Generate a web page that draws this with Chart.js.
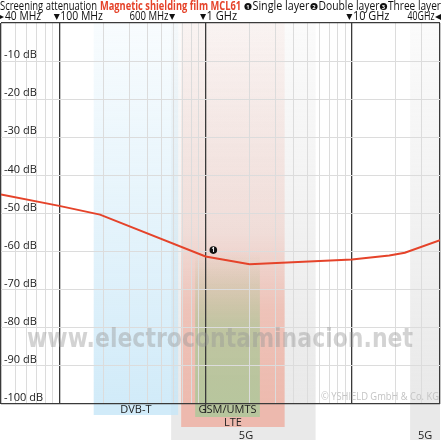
<!DOCTYPE html>
<html>
<head>
<meta charset="utf-8">
<script src="https://cdn.jsdelivr.net/npm/chart.js@4"></script>
<style>
  html, body { margin: 0; padding: 0; background: #fff; }
  #wrap { width: 441px; height: 441px; position: relative; }
</style>
</head>
<body>
<div id="wrap"><canvas id="chart"></canvas></div>
<script>
// Measured curve (frequency in MHz, screening attenuation in dB)
const freqMHz = [40, 100, 190, 1000, 2000, 10000, 18000, 23000, 40000];
const attenuationDb = [-45, -48, -50.3, -61.3, -63.3, -62.1, -61, -60.3, -57];

// Axis ticks
const yTicks = [0, -10, -20, -30, -40, -50, -60, -70, -80, -90, -100];
const xGridMHz = [40, 50, 60, 70, 80, 90, 100, 200, 300, 400, 500, 600, 700, 800, 900,
    1000, 2000, 3000, 4000, 5000, 6000, 7000, 8000, 9000, 10000, 20000, 30000, 40000];
const xMajorMHz = [40, 100, 1000, 10000, 40000];

// Top frequency markers
const markerLabels = ['40 MHz', '100 MHz', '600 MHz', '1 GHz', '10 GHz', '40GHz'];
const markerFreqs = [40, 100, 600, 1000, 10000, 40000];

// Frequency bands under the plot
const bandLabels = ['5G', 'DVB-T', 'LTE', 'GSM/UMTS', '5G'];
const bandFrom = [582, 172, 681, 849, 25000];
const bandTo = [5650, 650, 3470, 2350, 40000];

// Layer badge on the curve
const badgeFreq = 1130;
const badgeDb = -59.6;

const FONT = '"Open Sans", "Liberation Sans", sans-serif';

// per band: rgb, gradient stops [pos, alpha], bottom px, label y
const bandStyle = [
    { rgb: '226,226,226', stops: [[0, 0.15], [1, 0.75]], bottom: 440, ly: 436 },
    { rgb: '198,230,247', stops: [[0, 0.12], [0.5, 0.45], [1, 0.8]], bottom: 415, ly: 410 },
    { rgb: '238,178,164', stops: [[0, 0.1], [0.55, 0.32], [0.75, 0.72], [1, 0.85]], bottom: 427, ly: 423 },
    { rgb: '180,198,156', stops: [[0, 0], [0.6, 0], [0.8, 0.8], [1, 0.95]], bottom: 417, ly: 410 },
    { rgb: '226,226,226', stops: [[0, 0.15], [1, 0.75]], bottom: 440, ly: 436 }
];

function badge(ctx, x, y, n, r) {
    ctx.save();
    ctx.fillStyle = '#111';
    ctx.beginPath();
    ctx.arc(x, y, r, 0, Math.PI * 2);
    ctx.fill();
    ctx.fillStyle = '#fff';
    ctx.font = 'bold ' + (r * 1.6) + 'px ' + FONT;
    ctx.textAlign = 'center';
    ctx.textBaseline = 'middle';
    ctx.fillText(String(n), x, y + 0.5);
    ctx.restore();
}

function tri(ctx, cx, cy, dir, s) {
    ctx.beginPath();
    if (dir === 'down') {
        ctx.moveTo(cx - s / 2, cy - s / 2);
        ctx.lineTo(cx + s / 2, cy - s / 2);
        ctx.lineTo(cx, cy + s / 2);
    } else if (dir === 'right') {
        ctx.moveTo(cx - s / 2, cy - s / 2);
        ctx.lineTo(cx + s / 2, cy);
        ctx.lineTo(cx - s / 2, cy + s / 2);
    } else {
        ctx.moveTo(cx + s / 2, cy - s / 2);
        ctx.lineTo(cx - s / 2, cy);
        ctx.lineTo(cx + s / 2, cy + s / 2);
    }
    ctx.closePath();
    ctx.fill();
}

const bandsPlugin = {
    id: 'bands',
    beforeDraw(chart) {
        const { ctx, chartArea } = chart;
        const xs = chart.scales.x;
        ctx.save();
        bandLabels.forEach((label, i) => {
            const st = bandStyle[i];
            const x0 = xs.getPixelForValue(bandFrom[i]);
            const x1 = Math.min(xs.getPixelForValue(bandTo[i]), 441);
            const g = ctx.createLinearGradient(0, chartArea.top, 0, chartArea.bottom);
            st.stops.forEach(s => g.addColorStop(s[0], 'rgba(' + st.rgb + ',' + s[1] + ')'));
            ctx.fillStyle = g;
            ctx.fillRect(x0, chartArea.top, x1 - x0, chartArea.bottom - chartArea.top);
            const last = st.stops[st.stops.length - 1][1];
            ctx.fillStyle = 'rgba(' + st.rgb + ',' + last + ')';
            ctx.fillRect(x0, chartArea.bottom, x1 - x0, st.bottom - chartArea.bottom);
        });
        ctx.restore();
    },
    beforeDatasetsDraw(chart) {
        const { ctx, chartArea } = chart;
        const xs = chart.scales.x;
        ctx.save();
        // 1 GHz line runs on below the axis
        ctx.strokeStyle = '#3a3a3a';
        ctx.lineWidth = 1.3;
        const g1 = xs.getPixelForValue(1000);
        ctx.beginPath();
        ctx.moveTo(g1, chartArea.bottom);
        ctx.lineTo(g1, 413);
        ctx.stroke();
        // watermark
        ctx.fillStyle = 'rgba(150,150,150,0.42)';
        ctx.font = 'bold 27px "DejaVu Sans", sans-serif';
        ctx.textAlign = 'center';
        ctx.textBaseline = 'middle';
        ctx.fillText('www.electrocontaminacion.net', 220, 340, 386);
        // copyright
        ctx.fillStyle = '#c4c4c4';
        ctx.font = '10.5px ' + FONT;
        ctx.textAlign = 'right';
        ctx.fillText('\u00A9 YSHIELD GmbH & Co. KG', 439, 397, 118);
        // band labels
        ctx.fillStyle = '#222';
        ctx.font = '11px ' + FONT;
        ctx.textAlign = 'center';
        bandLabels.forEach((label, i) => {
            const x0 = xs.getPixelForValue(bandFrom[i]);
            const x1 = Math.min(xs.getPixelForValue(bandTo[i]), 441);
            let cx = (x0 + x1) / 2;
            if (label === '5G' && i === 0) cx = 246;
            ctx.fillText(label, cx, bandStyle[i].ly);
        });
        ctx.restore();
    },
    afterDraw(chart) {
        const { ctx } = chart;
        const xs = chart.scales.x;
        const ys = chart.scales.y;
        ctx.save();
        // title row
        ctx.textBaseline = 'middle';
        ctx.textAlign = 'left';
        ctx.fillStyle = '#111';
        ctx.font = '12px ' + FONT;
        ctx.fillText('Screening attenuation', 0, 6.5, 97);
        ctx.fillStyle = '#e5432a';
        ctx.font = 'bold 12px ' + FONT;
        ctx.fillText('Magnetic shielding film MCL61', 100, 6.5, 141);
        ctx.fillStyle = '#111';
        ctx.font = '12px ' + FONT;
        badge(ctx, 248, 6.5, 1, 3.6);
        ctx.fillText('Single layer', 252.5, 6.5, 57);
        badge(ctx, 314, 6.5, 2, 3.6);
        ctx.fillText('Double layer', 318.5, 6.5, 61);
        badge(ctx, 383.5, 6.5, 3, 3.6);
        ctx.fillText('Three layer', 388, 6.5, 53);

        // marker row
        const my = 17;
        markerLabels.forEach((label, i) => {
            const px = xs.getPixelForValue(markerFreqs[i]);
            ctx.fillStyle = '#111';
            if (i === 0) {
                tri(ctx, 1, my, 'right', 6);
                ctx.textAlign = 'left';
                ctx.fillText(label, 5, my, 36);
            } else if (i === markerLabels.length - 1) {
                tri(ctx, 438, my, 'left', 6);
                ctx.textAlign = 'right';
                ctx.fillText(label, 434.5, my, 27);
            } else if (label.indexOf('600') === 0) {
                tri(ctx, px - 1, my, 'down', 6);
                ctx.textAlign = 'right';
                ctx.fillText(label, px - 4.5, my, 39);
            } else {
                tri(ctx, px - 2.5, my, 'down', 6);
                ctx.textAlign = 'left';
                ctx.fillText(label, px + 1, my, label.length * 6.1);
            }
        });

        // layer badge
        badge(ctx, xs.getPixelForValue(badgeFreq), ys.getPixelForValue(badgeDb), 1, 3.8);
        ctx.restore();
    }
};

new Chart(document.getElementById('chart'), {
    type: 'line',
    data: {
        datasets: [{
            label: 'Single layer',
            data: freqMHz.map((f, i) => ({ x: f, y: attenuationDb[i] })),
            borderColor: '#e5432a',
            borderWidth: 2,
            pointRadius: 0,
            tension: 0,
            fill: false
        }]
    },
    options: {
        responsive: true,
        maintainAspectRatio: false,
        animation: false,
        layout: { padding: { left: -5, right: 1, top: 23, bottom: 37 } },
        plugins: { legend: { display: false }, tooltip: { enabled: false } },
        scales: {
            x: {
                type: 'logarithmic',
                min: 40,
                max: 40000,
                afterBuildTicks: (axis) => { axis.ticks = xGridMHz.map(v => ({ value: v })); },
                ticks: { display: false },
                border: { display: false },
                grid: {
                    drawTicks: false,
                    color: (c) => xMajorMHz.includes(c.tick && c.tick.value) ? '#3a3a3a' : '#dcdcdc',
                    lineWidth: (c) => xMajorMHz.includes(c.tick && c.tick.value) ? 1.3 : 1
                }
            },
            y: {
                min: -100,
                max: 0,
                afterBuildTicks: (axis) => { axis.ticks = yTicks.map(v => ({ value: v })); },
                border: { display: false },
                grid: {
                    drawTicks: false,
                    color: (c) => (c.tick && (c.tick.value === 0 || c.tick.value === -100)) ? '#3a3a3a' : '#dcdcdc',
                    lineWidth: (c) => (c.tick && (c.tick.value === 0 || c.tick.value === -100)) ? 1.3 : 1
                },
                ticks: {
                    mirror: true,
                    padding: 3,
                    labelOffset: -6,
                    color: '#222',
                    font: { family: FONT, size: 11 },
                    callback: (v) => v === 0 ? '' : v + ' dB'
                }
            }
        }
    },
    plugins: [bandsPlugin]
});
</script>
</body>
</html>
